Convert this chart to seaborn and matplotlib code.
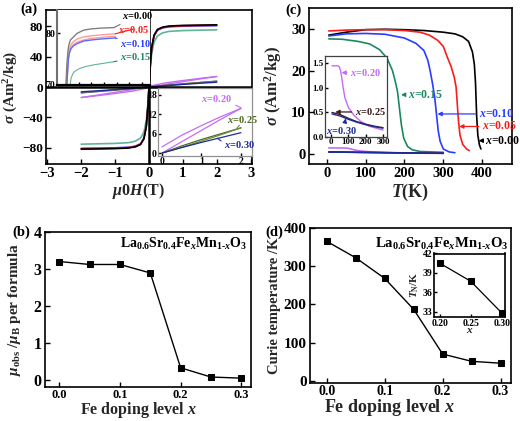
import numpy as np
import seaborn as sns
import matplotlib
matplotlib.use("Agg")
import matplotlib.pyplot as plt

# ---------------- (a) sigma vs mu0H ----------------
H_fm = [-2, -1.5, -1, -0.6, -0.4, -0.25, -0.15, -0.08, -0.03, 0, 0.03, 0.08, 0.15, 0.25, 0.4, 0.6, 1, 1.5, 2]
M_000 = [-81.5, -81.2, -80.8, -80, -78.5, -75.5, -68, -52, -25, 0, 25, 52, 68, 75.5, 78.5, 80, 80.8, 81.2, 81.5]
M_005 = [-81, -80.7, -80.3, -79.5, -78, -75, -67.5, -51.5, -24.5, 0, 24.5, 51.5, 67.5, 75, 78, 79.5, 80.3, 80.7, 81]
M_010 = [-80.5, -80.2, -79.8, -79, -77.5, -74.5, -67, -51, -24, 0, 24, 51, 67, 74.5, 77.5, 79, 79.8, 80.2, 80.5]
M_015 = [-75, -74.5, -74, -73, -71, -67, -59, -44, -20, 0, 20, 44, 59, 67, 71, 73, 74, 74.5, 75]

H_af = [-2, -1.5, -1, -0.5, 0, 0.5, 1, 1.5, 2]
M_020_dn = [-13.8, -10.5, -7.0, -3.5, 1.0, 5.5, 8.5, 11.3, 13.8]
M_020_up = [-13.8, -11.3, -8.5, -5.5, -1.0, 3.5, 7.0, 10.5, 13.8]
M_025_dn = [-7.6, -5.6, -3.7, -1.8, 0.3, 2.2, 4.2, 6.0, 7.6]
M_025_up = [-7.6, -6.0, -4.2, -2.2, -0.3, 1.8, 3.7, 5.6, 7.6]
M_030 = [-6.3, -4.9, -3.4, -1.8, 0, 1.8, 3.4, 4.9, 6.3]

# inset (a) top-left: saturation region
Hz_000 = [0, 0.04, 0.08, 0.12, 0.18, 0.3, 0.45, 0.7, 1.0, 1.4, 1.9]
Mz_000 = [70, 74, 76.5, 77.8, 78.7, 79.3, 80.0, 80.6, 80.85, 81.0, 81.1]
Hz_005 = [0.04, 0.07, 0.1, 0.14, 0.2, 0.3, 0.45, 0.7, 1.0, 1.4, 1.95]
Mz_005a = [70, 73.5, 75.8, 77.0, 77.8, 78.4, 78.9, 79.3, 79.5, 79.7, 79.9]
Mz_005b = [70, 73.0, 75.2, 76.4, 77.2, 77.8, 78.3, 78.7, 79.0, 79.2, 79.4]
Mz_010 = [70, 72.8, 75.0, 76.2, 77.0, 77.6, 78.0, 78.5, 78.7, 78.9, 79.1]
Hz_015 = [0.17, 0.2, 0.25, 0.3, 0.4, 0.55, 0.8, 1.1, 1.5, 1.9]
Mz_015 = [70, 71.2, 71.9, 72.4, 72.8, 73.2, 73.6, 73.9, 74.2, 74.5]

# inset (a) bottom-right: low-field region
Hl = [0, 0.5, 1, 1.5, 2]
Ml_020a = [1.9, 5.5, 8.5, 11.3, 13.8]
Ml_020b = [0.0, 3.5, 7.0, 10.5, 13.8]
Ml_025a = [0.0, 2.2, 4.2, 6.0, 7.8]
Ml_025b = [0.0, 1.8, 3.7, 5.7, 7.8]
Ml_030 = [0.0, 1.7, 3.3, 4.8, 6.3]

# ---------------- (c) sigma vs T ----------------
T_000 = [5, 50, 100, 150, 200, 250, 300, 330, 350, 365, 375, 380, 383, 386, 389, 393, 397]
S_000 = [28.5, 29.2, 29.8, 29.9, 29.8, 29.6, 29.2, 28.8, 28.1, 27, 24.5, 21.5, 17, 9, 4.5, 2.2, 1.2]
T_005 = [5, 50, 100, 150, 200, 240, 264, 285, 300, 310, 320, 328, 333, 336, 339, 343, 350, 360, 367]
S_005 = [29.5, 29.7, 29.8, 29.8, 29.6, 29.2, 28.5, 27.3, 25.8, 23.3, 21, 18.5, 16, 12, 8, 4.5, 2.3, 1.2, 0.8]
T_010 = [5, 50, 100, 150, 200, 230, 250, 260, 266, 272, 278, 283, 287, 292, 300, 315, 330]
S_010 = [28.3, 28.8, 28.9, 28.7, 27.8, 26.5, 24.8, 22.5, 20, 17, 13.5, 9, 5.5, 3, 1.2, 0.5, 0.3]
T_015 = [5, 40, 80, 110, 136, 155, 169, 176, 182, 187, 192, 198, 208, 220, 240, 300]
S_015 = [27.6, 27.5, 27, 26.4, 25, 23, 20, 17.5, 15, 11, 7, 3.8, 1.8, 1.0, 0.6, 0.4]
T_020 = [5, 20, 40, 48, 55, 62, 70, 80, 100, 130, 170, 220, 300]
S_020 = [1.45, 1.45, 1.45, 1.43, 1.35, 1.2, 1.0, 0.8, 0.6, 0.45, 0.32, 0.22, 0.14]
T_low = [5, 50, 100, 150, 200, 250, 300]
S_025 = [0.5, 0.46, 0.38, 0.31, 0.26, 0.22, 0.19]
S_030 = [0.47, 0.43, 0.36, 0.30, 0.25, 0.21, 0.18]

# ---------------- (b), (d) ----------------
x_fe = [0.0, 0.05, 0.1, 0.15, 0.2, 0.25, 0.3]
mu_obs = [3.2, 3.12, 3.12, 2.89, 0.32, 0.07, 0.04]
T_curie = [365, 322, 268, 187, 70, 51, 46]
x_fe_n = [0.20, 0.25, 0.30]
T_neel = [40.5, 37.7, 32.8]

# ---------------- style ----------------
sns.set_theme(style="ticks")
plt.rcParams.update({
    "font.family": ["Liberation Serif", "DejaVu Serif"],
    "font.weight": "bold",
    "axes.labelweight": "bold",
    "mathtext.fontset": "custom",
    "mathtext.rm": "Liberation Serif:bold",
    "mathtext.it": "Liberation Serif:italic:bold",
    "mathtext.bf": "Liberation Serif:bold",
    "xtick.direction": "in",
    "ytick.direction": "in",
    "axes.linewidth": 1.2,
    "xtick.major.width": 1.0,
    "ytick.major.width": 1.0,
    "xtick.major.size": 3.5,
    "ytick.major.size": 3.5,
    "xtick.major.pad": 2.0,
    "ytick.major.pad": 2.5,
    "axes.edgecolor": "black",
    "xtick.color": "black",
    "ytick.color": "black",
    "text.color": "black",
})

W, Hh = 520, 421
fig = plt.figure(figsize=(5.2, 4.21), dpi=100)


def box(l, r, t, b):
    return [l / W, 1 - b / Hh, (r - l) / W, (b - t) / Hh]


def line(ax, x, y, color, lw=1.0, **kw):
    sns.lineplot(x=np.asarray(x, float), y=np.asarray(y, float), ax=ax, color=color, lw=lw,
                 estimator=None, sort=False, legend=False, **kw)


BLACK, RED, BLUE, GREEN = "#000000", "#ff1a1a", "#2a3cff", "#1a8a5c"
TEAL, MAG, OLIVE, NAVY = "#5fb597", "#c46cf5", "#4f6b1f", "#1c2c9c"

# ================= (a) =================
axa = fig.add_axes(box(46, 252, 10, 164))
line(axa, H_fm, M_015, TEAL, 1.2)
line(axa, H_fm, M_010, BLUE, 1.2)
line(axa, H_fm, M_005, RED, 1.2)
line(axa, H_fm, M_000, BLACK, 1.2)
line(axa, H_af, M_020_dn, MAG, 1.0)
line(axa, H_af, M_020_up, MAG, 1.0)
line(axa, H_af, M_025_dn, OLIVE, 1.0)
line(axa, H_af, M_025_up, "#707070", 1.0)
line(axa, H_af, M_030, NAVY, 1.0)
axa.axhline(0, color="black", lw=1.8, zorder=5)
axa.axvline(0, color="black", lw=1.8, zorder=5)
axa.set_xlim(-3.04, 3.04)
axa.set_ylim(-101, 101)
axa.set_xticks([-3, -2, -1, 0, 1, 2, 3])
axa.set_yticks([-80, -40, 0, 40, 80])
axa.tick_params(axis="x", labelsize=10.5)
axa.tick_params(axis="y", labelsize=9.5, pad=2)
axa.set_xlabel(r"$\mu$0$H$(T)", fontsize=11.5)
axa.set_ylabel(r"$\sigma$ (Am$^2$/kg)", fontsize=11)
axa.xaxis.set_label_coords(0.45, -0.175)
axa.xaxis.label.set_va("center")
axa.yaxis.set_label_coords(-0.17, 0.5)
axa.yaxis.label.set_va("center")

# inset top-left
ia1 = fig.add_axes(box(57, 149.5, 10, 85))
line(ia1, Hz_015, Mz_015, TEAL, 0.8)
line(ia1, Hz_005, Mz_005a, "#ff9a9a", 1.0)
line(ia1, Hz_005, Mz_005b, "#ff9a9a", 1.0)
line(ia1, Hz_005, Mz_010, "#5a6cff", 1.0)
line(ia1, Hz_000, Mz_000, "#808080", 1.0)
ia1.set_xlim(-0.35, 3.3)
ia1.set_ylim(70, 84.5)
ia1.set_yticks([70, 80])
ia1.set_xticks([0.5, 1.0, 1.5, 2.0, 2.5, 3.0])
ia1.set_xticklabels([])
ia1.tick_params(labelsize=7, length=2, pad=1)
for s in ["top", "right"]:
    ia1.spines[s].set_visible(False)
ia1.spines["left"].set_color("#707070")
ia1.spines["left"].set_linewidth(1.5)
ia1.spines["bottom"].set_linewidth(1.6)
lab_kw = dict(fontsize=7.5, ha="left", va="center")
ia1.annotate(r"$x$=0.00", xy=(1.9, 81.1), xytext=(2.2, 83.4), color=BLACK,
             arrowprops=dict(arrowstyle="-", color="#707070", lw=0.8, shrinkA=0, shrinkB=0), **lab_kw)
ia1.annotate(r"$x$=0.05", xy=(1.95, 79.9), xytext=(2.05, 80.8), color=RED,
             arrowprops=dict(arrowstyle="-", color=RED, lw=0.8, shrinkA=0, shrinkB=0), **lab_kw)
ia1.annotate(r"$x$=0.10", xy=(1.95, 79.1), xytext=(2.15, 78.0), color=BLUE,
             arrowprops=dict(arrowstyle="-", color=BLUE, lw=0.8, shrinkA=0, shrinkB=0), **lab_kw)
ia1.annotate(r"$x$=0.15", xy=(1.9, 74.5), xytext=(2.15, 75.5), color=GREEN,
             arrowprops=dict(arrowstyle="-", color=GREEN, lw=0.8, shrinkA=0, shrinkB=0), **lab_kw)

# inset bottom-right
ia2 = fig.add_axes(box(158, 252, 88, 156))
line(ia2, Hl, Ml_020a, MAG, 0.9)
line(ia2, Hl, Ml_020b, MAG, 0.9)
line(ia2, Hl, Ml_025a, OLIVE, 0.9)
line(ia2, Hl, Ml_025b, "#6d8a3a", 0.9)
line(ia2, Hl, Ml_030, NAVY, 0.9)
ia2.set_xlim(-0.1, 2.28)
ia2.set_ylim(-0.9, 20.1)
ia2.set_xticks([0, 1, 2])
ia2.set_yticks([0, 6, 12, 18])
ia2.tick_params(labelsize=7, length=2, pad=1)
for s in ia2.spines.values():
    s.set_color("#909090")
    s.set_linewidth(0.9)
ia2.annotate(r"$x$=0.20", xy=(2.0, 14.0), xytext=(1.0, 17.0), color=MAG, fontsize=7.5, ha="left", va="center",
             arrowprops=dict(arrowstyle="-", color=MAG, lw=0.8, shrinkA=0, shrinkB=0, relpos=(1, 0)))
ia2.annotate(r"$x$=0.25", xy=(1.9, 7.8), xytext=(1.65, 10.3), color=OLIVE, fontsize=7.5, ha="left", va="center",
             arrowprops=dict(arrowstyle="-", color=OLIVE, lw=0.6, shrinkA=0, shrinkB=0, relpos=(0.4, 0)))
ia2.annotate(r"$x$=0.30", xy=(1.4, 4.6), xytext=(1.58, 2.7), color=NAVY, fontsize=7.5, ha="left", va="center",
             arrowprops=dict(arrowstyle="-", color=NAVY, lw=0.8, shrinkA=0, shrinkB=0, relpos=(0, 0.6)))

# ================= (c) =================
axc = fig.add_axes(box(309, 512, 8, 164))
line(axc, T_000, S_000, BLACK, 1.2)
line(axc, T_005, S_005, RED, 1.2)
line(axc, T_010, S_010, BLUE, 1.2)
line(axc, T_015, S_015, GREEN, 1.2)
line(axc, T_020, S_020, MAG, 1.2)
line(axc, T_low, S_025, "#3a1a1a", 1.2)
line(axc, T_low, S_030, NAVY, 1.2)
axc.set_xlim(-46, 477)
axc.set_ylim(-2.4, 35)
axc.set_xticks([0, 100, 200, 300, 400])
axc.set_yticks([0, 10, 20, 30])
axc.tick_params(labelsize=10.5)
axc.set_xlabel(r"$T$(K)", fontsize=13)
axc.set_ylabel(r"$\sigma$ (Am$^2$/kg)", fontsize=12)
axc.xaxis.set_label_coords(0.5, -0.18)
axc.xaxis.label.set_va("center")
axc.yaxis.set_label_coords(-0.175, 0.5)
axc.yaxis.label.set_va("center")
arr = lambda c: dict(arrowstyle="-|>", color=c, lw=0.9, mutation_scale=6, shrinkA=0, shrinkB=0)
axc.annotate(r"$x$=0.15", xy=(191, 14.2), xytext=(208, 14.2), color=GREEN, fontsize=8.5,
             ha="left", va="center", arrowprops=arr(GREEN))
axc.annotate(r"$x$=0.10", xy=(285, 9.6), xytext=(393, 9.6), color=BLUE, fontsize=8.5,
             ha="left", va="center", arrowprops=arr(BLUE), annotation_clip=False)
axc.annotate(r"$x$=0.05", xy=(341, 6.6), xytext=(400, 6.6), color=RED, fontsize=8.5,
             ha="left", va="center", arrowprops=arr(RED), annotation_clip=False)
axc.annotate(r"$x$=0.00", xy=(391, 3.2), xytext=(407, 3.2), color=BLACK, fontsize=8.5,
             ha="left", va="center", arrowprops=arr(BLACK), annotation_clip=False)

ic = fig.add_axes(box(325, 387, 56, 137))
line(ic, T_020, S_020, MAG, 1.0)
line(ic, T_low, S_025, "#3a1a1a", 1.0)
line(ic, T_low, S_030, NAVY, 1.0)
ic.set_xlim(-35, 323)
ic.set_ylim(0, 1.65)
ic.set_xticks([0, 100, 200, 300])
ic.set_yticks([0.0, 0.5, 1.0, 1.5])
ic.set_yticklabels(["0.0", "0.5", "1.0", "1.5"])
ic.tick_params(labelsize=6.5, length=2, pad=1)
for s in ic.spines.values():
    s.set_linewidth(0.9)
    s.set_color("#404040")
ic.annotate(r"$x$=0.20", xy=(60, 1.31), xytext=(110, 1.31), color=MAG, fontsize=7.5,
            ha="left", va="center", arrowprops=arr(MAG))
ic.annotate(r"$x$=0.25", xy=(25, 0.51), xytext=(138, 0.51), color="#3a1a1a", fontsize=7.5,
            ha="left", va="center", arrowprops=arr("#3a1a1a"))
ic.annotate(r"$x$=0.30", xy=(85, 0.38), xytext=(-30, 0.14), color=NAVY, fontsize=7.5,
            ha="left", va="center", arrowprops=dict(arrowstyle="-|>", color=NAVY, lw=0.9,
                                                    mutation_scale=6, shrinkA=0, shrinkB=0, relpos=(0.6, 1)))

# ================= (b) =================
axb = fig.add_axes(box(45, 251, 232, 387))
sns.lineplot(x=x_fe, y=mu_obs, ax=axb, color="black", lw=1.0, marker="s", markersize=4.5,
             markeredgecolor="black", legend=False)
axb.set_xlim(-0.0236, 0.316)
axb.set_ylim(-0.2, 4)
axb.set_xticks([0.0, 0.1, 0.2, 0.3])
axb.set_xticklabels(["0.0", "0.1", "0.2", "0.3"])
axb.set_yticks([0, 1, 2, 3, 4])
axb.tick_params(axis="x", labelsize=9, pad=1.5)
axb.tick_params(axis="y", labelsize=11.5)
axb.set_xlabel(r"Fe doping level $x$", fontsize=11.5)
axb.set_ylabel(r"$\mu_{\rm obs}$ /$\mu_{\rm B}$ per formula", fontsize=11)
axb.xaxis.set_label_coords(0.455, -0.15)
axb.xaxis.label.set_va("center")
axb.yaxis.set_label_coords(-0.15, 0.5)
axb.yaxis.label.set_va("center")
axb.text(0.98, 0.92, r"La$_{0.6}$Sr$_{0.4}$Fe$_{x}$Mn$_{1\text{-}x}$O$_{3}$", transform=axb.transAxes,
         ha="right", va="center", fontsize=10)

# ================= (d) =================
axd = fig.add_axes(box(310, 511, 228, 382.7))
sns.lineplot(x=x_fe, y=T_curie, ax=axd, color="black", lw=1.0, marker="s", markersize=5,
             markeredgecolor="black", legend=False)
axd.set_xlim(-0.029, 0.318)
axd.set_ylim(-5, 400)
axd.set_xticks([0.0, 0.1, 0.2, 0.3])
axd.set_xticklabels(["0.0", "0.1", "0.2", "0.3"])
axd.set_yticks([0, 100, 200, 300, 400])
axd.tick_params(axis="x", labelsize=10, pad=1.5)
axd.tick_params(axis="y", labelsize=11)
axd.set_xlabel(r"Fe doping level $x$", fontsize=13)
axd.set_ylabel("Curie temperature /K", fontsize=10.5)
axd.xaxis.set_label_coords(0.395, -0.16)
axd.xaxis.label.set_va("center")
axd.yaxis.set_label_coords(-0.175, 0.5)
axd.yaxis.label.set_va("center")
axd.text(0.99, 0.9, r"La$_{0.6}$Sr$_{0.4}$Fe$_{x}$Mn$_{1\text{-}x}$O$_{3}$", transform=axd.transAxes,
         ha="right", va="center", fontsize=10.5)

idd = fig.add_axes(box(434, 505, 253.5, 316.7))
sns.lineplot(x=x_fe_n, y=T_neel, ax=idd, color="black", lw=0.9, marker="s", markersize=3.8,
             markeredgecolor="black", legend=False)
idd.set_xlim(0.1907, 0.3054)
idd.set_ylim(32.2, 42)
idd.set_xticks([0.20, 0.25, 0.30])
idd.set_xticklabels(["0.20", "0.25", "0.30"])
idd.set_yticks([33, 36, 39, 42])
idd.tick_params(labelsize=7, length=2, pad=1.5)
idd.set_xlabel(r"$x$", fontsize=8, labelpad=-1)
idd.set_ylabel(r"$T_{\rm N}$/K", fontsize=8, labelpad=1)

# panel letters
for s, (px, py) in {"(a)": (29, 9), "(c)": (293, 10), "(b)": (21, 232), "(d)": (274, 232)}.items():
    fig.text(px / W, 1 - py / Hh, s, fontsize=10.5, ha="center", va="center", fontweight="bold")

fig.savefig("out.png", dpi=100)
